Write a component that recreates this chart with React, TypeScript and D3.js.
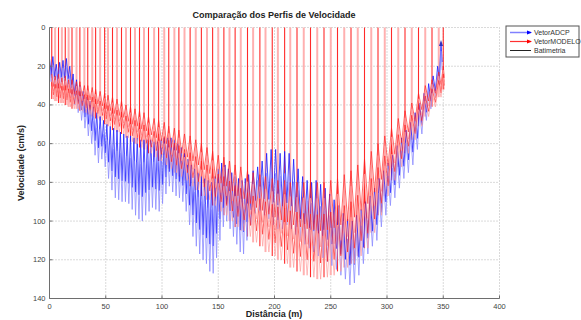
import React from "react";
import * as d3 from "d3";

// estações do modelo (m) e limites da faixa de vetores (cm/s)
const modelDist = [2, 5, 8, 11, 14, 17, 20, 24, 27, 31, 34, 38, 41, 45, 49, 52, 56, 60, 64, 68, 72, 76, 80, 84, 88, 93, 97, 102, 106, 111, 115, 120, 125, 130, 135, 140, 145, 150, 155, 160, 165, 170, 176, 181, 187, 192, 198, 203, 209, 214, 220, 226, 232, 238, 244, 250, 256, 262, 268, 274, 280, 286, 292, 298, 304, 310, 316, 322, 328, 334, 340, 346, 350];
const modelTop = [24, 25, 24, 26, 25, 27, 27, 28, 28, 30, 30, 31, 32, 33, 34, 35, 36, 37, 38, 40, 41, 42, 43, 44, 46, 47, 48, 49, 51, 52, 53, 55, 56, 58, 60, 62, 64, 66, 67, 69, 71, 72, 74, 75, 76, 77, 78, 79, 79, 80, 80, 80, 80, 80, 80, 79, 78, 76, 74, 71, 68, 64, 60, 56, 52, 47, 43, 39, 34, 30, 27, 23, 20];
const modelBottom = [37, 38, 39, 39, 40, 41, 42, 42, 43, 44, 45, 46, 47, 48, 50, 51, 53, 54, 55, 57, 59, 60, 62, 63, 65, 67, 69, 71, 73, 75, 77, 79, 82, 84, 87, 89, 92, 95, 97, 100, 103, 105, 108, 111, 113, 116, 118, 120, 122, 124, 126, 128, 129, 130, 129, 128, 126, 124, 122, 118, 114, 106, 97, 87, 79, 72, 65, 58, 51, 46, 41, 36, 32];

// estações ADCP (m) e limites da faixa de vetores medidos (cm/s)
const adcpDist = [0, 3, 6, 9, 12, 15, 18, 21, 24, 27, 30, 33, 36, 39, 42, 45, 48, 51, 54, 57, 60, 63, 66, 69, 72, 75, 78, 81, 84, 87, 90, 93, 96, 99, 102, 105, 108, 111, 114, 117, 120, 123, 126, 129, 132, 135, 138, 141, 144, 147, 150, 153, 156, 159, 162, 165, 168, 171, 174, 177, 181, 185, 189, 193, 197, 201, 205, 209, 213, 217, 221, 225, 229, 233, 237, 241, 245, 249, 253, 257, 261, 265, 269, 273, 277, 281, 285, 289, 293, 297, 301, 305, 309, 313, 317, 321, 325, 329, 333, 337, 341, 345, 348];
const adcpTop = [16, 15, 19, 18, 17, 16, 20, 24, 27, 30, 33, 36, 38, 41, 44, 46, 48, 50, 51, 52, 53, 54, 55, 56, 56, 57, 57, 58, 58, 58, 58, 59, 59, 58, 57, 57, 57, 58, 60, 62, 65, 68, 71, 73, 75, 77, 78, 79, 80, 77, 73, 70, 71, 73, 75, 77, 78, 79, 78, 76, 74, 72, 69, 65, 63, 63, 65, 64, 65, 68, 73, 77, 79, 80, 79, 81, 83, 86, 89, 92, 96, 99, 100, 97, 94, 90, 87, 83, 78, 74, 70, 66, 61, 57, 53, 49, 44, 39, 34, 29, 25, 20, 8];
const adcpBottom = [28, 30, 31, 29, 30, 31, 36, 40, 44, 48, 52, 56, 60, 66, 70, 68, 72, 78, 84, 88, 89, 90, 90, 91, 94, 97, 99, 100, 97, 95, 93, 94, 95, 91, 86, 82, 85, 87, 88, 90, 95, 102, 108, 113, 117, 120, 122, 126, 127, 119, 110, 103, 100, 104, 108, 112, 116, 117, 110, 102, 96, 95, 97, 99, 102, 104, 104, 102, 104, 107, 110, 112, 114, 116, 118, 119, 121, 123, 125, 128, 130, 133, 132, 128, 122, 117, 113, 110, 103, 97, 92, 88, 83, 78, 75, 71, 63, 55, 48, 42, 36, 30, 22];

const xTicks = [0, 50, 100, 150, 200, 250, 300, 350, 400];
const yTicks = [0, 20, 40, 60, 80, 100, 120, 140];

const W = 581;
const H = 320;

const x = d3.scaleLinear().domain([0, 400]).range([49.5, 499.5]);
const y = d3.scaleLinear().domain([0, 140]).range([27.5, 298.5]);

// faixa em zigue-zague (imitando as setas do quiver)
function bandPaths(dist: number[], top: number[], bot: number[], rows: number, h: number) {
  const line = d3.line<[number, number]>().x((d) => x(d[0])).y((d) => y(d[1]));
  const out: string[] = [];
  for (let r = 0; r < rows; r++) {
    const a = ((1 - h) / Math.max(rows - 1, 1)) * r;
    const b = a + h;
    const pts: [number, number][] = [];
    dist.forEach((d, i) => {
      const gap = i < dist.length - 1 ? dist[i + 1] - d : 2;
      const band = bot[i] - top[i];
      pts.push([d, top[i] + band * a]);
      pts.push([d + gap / 2, top[i] + band * b]);
    });
    out.push(line(pts) || "");
  }
  return out;
}

const redBand = bandPaths(modelDist, modelTop, modelBottom, 4, 0.5);
const blueBand = bandPaths(adcpDist, adcpTop, adcpBottom, 2, 0.7);

const font = "'Liberation Sans', Arial, sans-serif";

export default function App() {
  const last = adcpDist.length - 1;
  const ax = x(adcpDist[last]);
  const ay = y(adcpTop[last]);
  return (
    <svg width={W} height={H} style={{ position: "absolute", left: 0, top: 0, background: "#fff" }} fontFamily={font}>
      <rect width={W} height={H} fill="#fff" />
      {/* grade */}
      {xTicks.slice(1).map((t) => (
        <line key={"gx" + t} x1={x(t)} x2={x(t)} y1={y(0)} y2={y(140)} stroke="#b4b4b4" strokeWidth={1} strokeDasharray="1,2" />
      ))}
      {yTicks.slice(0, -1).map((t) => (
        <line key={"gy" + t} x1={x(0)} x2={x(400)} y1={y(t)} y2={y(t)} stroke="#b4b4b4" strokeWidth={1} strokeDasharray="1,2" />
      ))}

      {/* linhas verticais do modelo */}
      {modelDist.map((d, i) => (
        <line
          key={"v" + i}
          x1={x(d)}
          x2={x(d)}
          y1={y(0)}
          y2={y(modelBottom[i])}
          stroke={i % 2 === 0 ? "#ff2a2a" : "#ffb0b0"}
          strokeWidth={i % 2 === 0 ? 1.1 : 2}
        />
      ))}

      {/* vetores ADCP */}
      {blueBand.map((p, i) => (
        <path key={"b" + i} d={p} fill="none" stroke={i % 2 === 0 ? "#1a1aff" : "#8c8cff"} strokeWidth={0.8} />
      ))}
      {/* vetores do modelo */}
      {redBand.map((p, i) => (
        <path key={"r" + i} d={p} fill="none" stroke={i % 2 === 0 ? "#ff2020" : "#ff9a9a"} strokeWidth={0.8} opacity={0.85} />
      ))}
      <path d={`M${ax - 2},${ay + 3} L${ax},${ay - 3} L${ax + 2},${ay + 3} Z`} fill="#3030c0" />

      {/* eixos */}
      <line x1={x(0)} x2={x(0)} y1={y(0)} y2={y(140)} stroke="#6e6e6e" />
      <line x1={x(0)} x2={x(400)} y1={y(140)} y2={y(140)} stroke="#6e6e6e" />
      {xTicks.map((t) => (
        <g key={"xt" + t}>
          <line x1={x(t)} x2={x(t)} y1={y(140)} y2={y(140) - 3} stroke="#6e6e6e" />
          <text x={x(t)} y={y(140) + 10} fontSize={7.5} textAnchor="middle" fill="#444">{t}</text>
        </g>
      ))}
      {yTicks.map((t) => (
        <g key={"yt" + t}>
          <line x1={x(0)} x2={x(0) + 3} y1={y(t)} y2={y(t)} stroke="#6e6e6e" />
          <text x={x(0) - 4} y={y(t) + 2.5} fontSize={7.5} textAnchor="end" fill="#444">{t}</text>
        </g>
      ))}

      {/* títulos */}
      <text x={274} y={18} fontSize={9} fontWeight="bold" textAnchor="middle" fill="#222">Comparação dos Perfis de Velocidade</text>
      <text x={274} y={317} fontSize={9} fontWeight="bold" textAnchor="middle" fill="#222">Distância (m)</text>
      <text transform={`translate(24,163) rotate(-90)`} fontSize={9} fontWeight="bold" textAnchor="middle" fill="#222">Velocidade (cm/s)</text>

      {/* legenda */}
      <g transform="translate(506,26)">
        <rect x={0} y={0} width={73} height={31} fill="#fff" stroke="#555" strokeWidth={1} />
        <line x1={4} x2={25} y1={6.5} y2={6.5} stroke="#8080ff" strokeWidth={1.5} />
        <path d="M21,4.5 L26,6.5 L21,8.5 Z" fill="#0000ff" />
        <text x={28} y={9} fontSize={7} fill="#333">VetorADCP</text>
        <line x1={4} x2={25} y1={15.5} y2={15.5} stroke="#ff3030" strokeWidth={1.2} />
        <path d="M21,13.5 L26,15.5 L21,17.5 Z" fill="#ff0000" />
        <text x={28} y={18} fontSize={7} fill="#333">VetorMODELO</text>
        <line x1={4} x2={25} y1={24.5} y2={24.5} stroke="#222" strokeWidth={1} />
        <text x={28} y={27} fontSize={7} fill="#333">Batimetria</text>
      </g>
    </svg>
  );
}
